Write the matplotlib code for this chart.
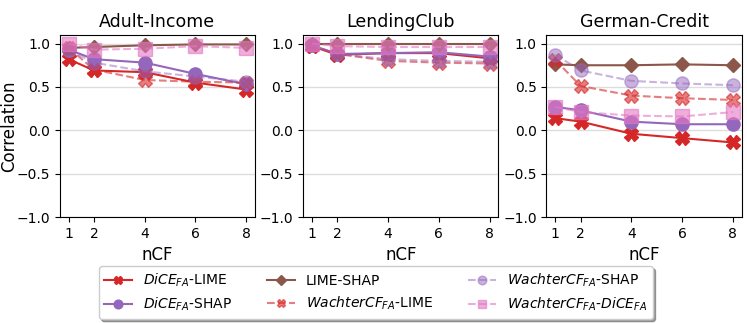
import numpy as np
import matplotlib.pyplot as plt

ncf = [1, 2, 4, 6, 8]
datasets = ['Adult-Income', 'LendingClub', 'German-Credit']

# correlation values per dataset
dice_lime = [[0.82, 0.69, 0.67, 0.55, 0.47],
             [0.97, 0.87, 0.89, 0.89, 0.83],
             [0.14, 0.10, -0.04, -0.09, -0.14]]
dice_shap = [[0.93, 0.82, 0.78, 0.65, 0.53],
             [0.98, 0.88, 0.89, 0.90, 0.85],
             [0.27, 0.23, 0.10, 0.07, 0.07]]
lime_shap = [[0.95, 0.96, 0.98, 0.99, 0.99],
             [1.00, 1.00, 1.00, 1.00, 1.00],
             [0.76, 0.75, 0.75, 0.76, 0.75]]
wachter_lime = [[0.95, 0.70, 0.58, 0.56, 0.55],
                [0.97, 0.88, 0.80, 0.78, 0.77],
                [0.81, 0.51, 0.40, 0.37, 0.35]]
wachter_shap = [[0.93, 0.78, 0.68, 0.62, 0.56],
                [0.98, 0.88, 0.82, 0.80, 0.79],
                [0.87, 0.69, 0.57, 0.54, 0.52]]
wachter_dice = [[1.00, 0.93, 0.94, 0.97, 0.95],
                [1.00, 0.97, 0.96, 0.96, 0.96],
                [0.27, 0.21, 0.17, 0.16, 0.21]]

series = [
    (dice_lime, r'$DiCE_{FA}$-LIME', 'tab:red', 'X', '-', 1.0),
    (dice_shap, r'$DiCE_{FA}$-SHAP', 'tab:purple', 'o', '-', 1.0),
    (lime_shap, 'LIME-SHAP', 'tab:brown', 'D', '-', 1.0),
    (wachter_lime, r'$WachterCF_{FA}$-LIME', 'tab:red', 'X', '--', 0.6),
    (wachter_shap, r'$WachterCF_{FA}$-SHAP', 'tab:purple', 'o', '--', 0.5),
    (wachter_dice, r'$WachterCF_{FA}$-$DiCE_{FA}$', 'tab:pink', 's', '--', 0.6),
]

fig, axes = plt.subplots(1, 3, figsize=(7.47, 3.23), dpi=100)
fig.subplots_adjust(left=0.08, right=0.993, top=0.892, bottom=0.328, wspace=0.246)

for i, ax in enumerate(axes):
    for vals, label, color, marker, ls, alpha in series:
        ax.plot(ncf, vals[i], color=color, marker=marker, linestyle=ls,
                alpha=alpha, markersize=9.5 if marker != 'D' else 7.5,
                linewidth=1.5, label=label)
    ax.set_title(datasets[i], fontsize=12.5)
    ax.set_xlabel('nCF', fontsize=12)
    ax.set_xticks(ncf)
    ax.set_ylim(-1.0, 1.1)
    ax.set_yticks([-1.0, -0.5, 0.0, 0.5, 1.0])
    ax.tick_params(labelsize=10)
    ax.yaxis.grid(True, color='#dddddd', linewidth=1)
    ax.set_axisbelow(True)

axes[0].set_ylabel('Correlation', fontsize=12, labelpad=-1.5)

handles, labels = axes[0].get_legend_handles_labels()
fig.legend(handles, labels, loc='lower center', ncol=3, fontsize=10,
           shadow=True, bbox_to_anchor=(0.503, 0.0), markerscale=0.66,
           columnspacing=2.5, borderaxespad=0.3)

plt.savefig('out.png')
